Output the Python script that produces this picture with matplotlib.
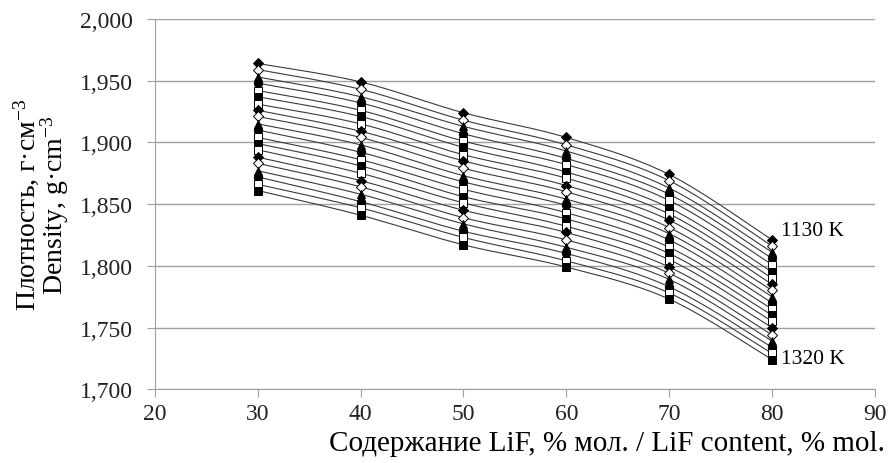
import numpy as np
import matplotlib
matplotlib.use('Agg')
import matplotlib.pyplot as plt
from matplotlib.ticker import FuncFormatter

plt.rcParams['font.family'] = ['Liberation Serif', 'DejaVu Serif']
plt.rcParams['mathtext.fontset'] = 'custom'
plt.rcParams['mathtext.rm'] = 'Liberation Serif'
plt.rcParams['mathtext.it'] = 'Liberation Serif:italic'

# содержание LiF, % мол.
lif = [30, 40, 50, 60, 70, 80]
# температуры, K (1130 ... 1320)
temps = [1130, 1140, 1150, 1160, 1170, 1180, 1190, 1200, 1210, 1220,
         1230, 1240, 1250, 1260, 1270, 1280, 1290, 1300, 1310, 1320]

# плотность по составам (сверху вниз: 1130 K -> 1320 K)
d30 = [1.964, 1.959, 1.953, 1.948, 1.942, 1.937, 1.931, 1.926, 1.921, 1.915,
       1.910, 1.904, 1.899, 1.894, 1.888, 1.883, 1.877, 1.872, 1.866, 1.861]
d40 = [1.949, 1.943, 1.937, 1.932, 1.926, 1.921, 1.915, 1.909, 1.904, 1.898,
       1.892, 1.886, 1.881, 1.875, 1.869, 1.864, 1.858, 1.852, 1.847, 1.841]
d50 = [1.924, 1.918, 1.913, 1.907, 1.901, 1.896, 1.890, 1.885, 1.879, 1.873,
       1.868, 1.862, 1.856, 1.851, 1.845, 1.839, 1.834, 1.828, 1.823, 1.817]
d60 = [1.904, 1.898, 1.893, 1.887, 1.882, 1.876, 1.871, 1.865, 1.860, 1.854,
       1.849, 1.843, 1.838, 1.832, 1.827, 1.821, 1.815, 1.810, 1.804, 1.799]
d70 = [1.874, 1.869, 1.863, 1.858, 1.853, 1.847, 1.842, 1.837, 1.831, 1.826,
       1.821, 1.815, 1.810, 1.805, 1.799, 1.794, 1.789, 1.783, 1.778, 1.773]
d80 = [1.821, 1.816, 1.811, 1.806, 1.801, 1.795, 1.790, 1.785, 1.780, 1.775,
       1.770, 1.765, 1.760, 1.755, 1.750, 1.744, 1.739, 1.734, 1.729, 1.724]


def smooth(x, y, n=30):
    # сглаженная линия как в Excel (Catmull-Rom, концы без продления)
    px = np.concatenate([[x[0]], x, [x[-1]]]).astype(float)
    py = np.concatenate([[y[0]], y, [y[-1]]]).astype(float)
    xs, ys = [], []
    t = np.linspace(0, 1, n)
    for i in range(1, len(px) - 2):
        for p, out in ((px, xs), (py, ys)):
            p0, p1, p2, p3 = p[i - 1], p[i], p[i + 1], p[i + 2]
            out.extend(0.5 * (2 * p1 + (-p0 + p2) * t
                              + (2 * p0 - 5 * p1 + 4 * p2 - p3) * t ** 2
                              + (-p0 + 3 * p1 - 3 * p2 + p3) * t ** 3))
    return xs, ys


markers = [('D', 'k'), ('D', 'w'), ('^', 'k'), ('o', 'k'), ('s', 'w'), ('s', 'k'), ('s', 'w')]

fig = plt.figure(figsize=(8.9, 4.64), dpi=100)
ax = fig.add_axes([0.174, 0.159, 0.809, 0.798])

data = np.array([d30, d40, d50, d60, d70, d80])
for i, T in enumerate(temps):
    y = data[:, i]
    xs, ys = smooth(lif, y)
    ax.plot(xs, ys, color='#3a3a3a', lw=0.8, zorder=2)
    m, fc = markers[i % len(markers)]
    ax.plot(lif, y, ls='none', marker=m, ms=6 if m != 'D' else 5.5,
            mfc=fc, mec='k', mew=0.7, zorder=3 + i)

ax.set_xlim(20, 90)
ax.set_ylim(1.700, 2.000)
ax.set_xticks(range(20, 91, 10))
ax.set_yticks(np.arange(1.70, 2.0001, 0.05))
ax.yaxis.set_major_formatter(FuncFormatter(lambda v, p: f'{v:.3f}'.replace('.', ',')))
ax.grid(axis='y', color='#a0a0a0', lw=1)
ax.set_axisbelow(True)
for s in ['top', 'right']:
    ax.spines[s].set_visible(False)
for s in ['left', 'bottom']:
    ax.spines[s].set_color('#a0a0a0')
ax.tick_params(axis='both', colors='#a0a0a0', labelcolor='#222222', labelsize=17, length=6)
ax.tick_params(axis='x', pad=4)
ax.tick_params(axis='y', pad=10)

ax.text(80.9, 1.821, '1130 K', fontsize=15.5, va='bottom', ha='left')
ax.text(80.9, 1.7245, '1320 K', fontsize=15.5, va='center', ha='left')

ax.set_ylabel('Плотность, г·см$^{-3}$\nDensity, g·cm$^{-3}$', fontsize=20, linespacing=0.9, labelpad=6)
fig.text(0.994, 0.028, 'Содержание LiF, % мол. / LiF content, % mol.', fontsize=21, ha='right', va='baseline')

fig.savefig('out.png', dpi=100)
